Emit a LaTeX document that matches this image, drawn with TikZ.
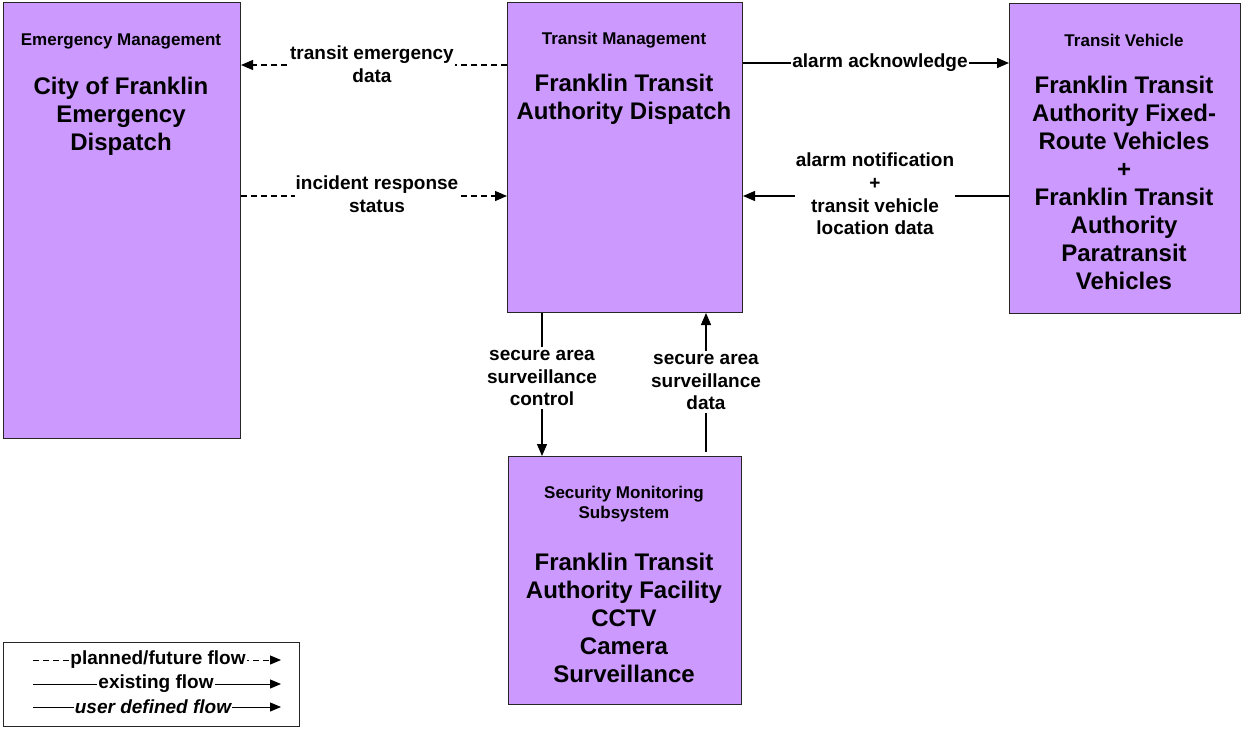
\documentclass[tikz,border=0pt]{standalone}
\usepackage{fontspec}
\setmainfont{Liberation Sans}
\usetikzlibrary{arrows.meta}
\definecolor{boxfill}{HTML}{CC99FF}
\tikzset{
  box/.style={draw=black!85, line width=1pt, fill=boxfill, inner sep=0pt, anchor=north west},
  legbox/.style={draw=black!85, line width=1pt, fill=white, inner sep=0pt, anchor=north west},
  hdr/.style={font=\bfseries\fontsize{17}{20.5}\selectfont, align=center, inner sep=0pt},
  big/.style={font=\bfseries\fontsize{24}{28}\selectfont, align=center, inner sep=0pt},
  lbl/.style={font=\bfseries\fontsize{19}{22.7}\selectfont, align=center, fill=white, inner xsep=1pt, inner ysep=3pt},
  flow/.style={line width=1.3pt, -{Triangle[length=12pt,width=10pt]}},
  planned/.style={flow, dash pattern=on 6pt off 4pt},
  legflow/.style={line width=1pt, -{Triangle[length=11pt,width=9pt]}},
  legplanned/.style={legflow, dash pattern=on 6pt off 4pt},
}
\begin{document}
\begin{tikzpicture}[x=1pt,y=-1pt]
\useasboundingbox (0,0) rectangle (1244,736);
% boxes
\node[box, minimum width=237, minimum height=436] (em) at (3,2) {};
\node[box, minimum width=235, minimum height=310] (tm) at (507,2) {};
\node[box, minimum width=231, minimum height=310] (tv) at (1009,3) {};
\node[box, minimum width=233, minimum height=248] (sec) at (508,456) {};
% box texts
\node[hdr] (emh) at (121,41) {Emergency Management};
\node[big] (emt) at (121,116) {City of Franklin\\Emergency\\Dispatch};
\node[hdr] (tmh) at (624,40) {Transit Management};
\node[big] (tmt) at (624,99) {Franklin Transit\\Authority Dispatch};
\node[hdr] (tvh) at (1124,40) {Transit Vehicle};
\node[big] (tvt) at (1124,183) {Franklin Transit\\Authority Fixed-\\Route Vehicles\\+\\Franklin Transit\\Authority\\Paratransit\\Vehicles};
\node[hdr] (sech) at (624,504) {Security Monitoring\\Subsystem};
\node[big] (sect) at (624,618) {Franklin Transit\\Authority Facility\\CCTV\\Camera\\Surveillance};
% connectors
\coordinate (c1) at (tm.west |- 0,65);
\draw[planned] (c1) -- (c1 -| em.east);
\node[lbl] (l1) at (372,64) {transit emergency\\data};
\coordinate (c2) at (em.east |- 0,196);
\draw[planned] (c2) -- (c2 -| tm.west);
\node[lbl] (l2) at (377,194) {incident response\\status};
\coordinate (c3) at (tm.east |- 0,63);
\draw[flow] (c3) -- (c3 -| tv.west);
\node[lbl] (l3) at (880,63) {alarm acknowledge};
\coordinate (c4) at (tv.west |- 0,196);
\draw[flow] (c4) -- (c4 -| tm.east);
\node[lbl] (l4) at (875,194) {alarm notification\\+\\transit vehicle\\location data};
\coordinate (c5) at (542,0 |- tm.south);
\draw[flow] (c5) -- (c5 |- sec.north);
\node[lbl] (l5) at (542,378) {secure area\\surveillance\\control};
\coordinate (c6) at (706,0 |- sec.north);
\draw[flow] ([yshift=4pt]c6) -- (c6 |- tm.south);
\node[lbl] (l6) at (706,382) {secure area\\surveillance\\data};
% legend
\node[legbox, minimum width=296, minimum height=84] (leg) at (3,642) {};
\coordinate (g1) at (33,660);
\draw[legplanned] (g1) -- (281,660);
\node[lbl, inner ysep=1pt] (t1) at (158,660) {planned/future flow};
\coordinate (g2) at (33,684);
\draw[legflow] (g2) -- (281,684);
\node[lbl, inner ysep=1pt] (t2) at (156,684) {existing flow};
\coordinate (g3) at (33,707);
\draw[legflow] (g3) -- (281,707);
\node[lbl, inner ysep=1pt, font=\bfseries\itshape\fontsize{19}{22.7}\selectfont] (t3) at (153,707) {user defined flow};
\end{tikzpicture}
\end{document}
